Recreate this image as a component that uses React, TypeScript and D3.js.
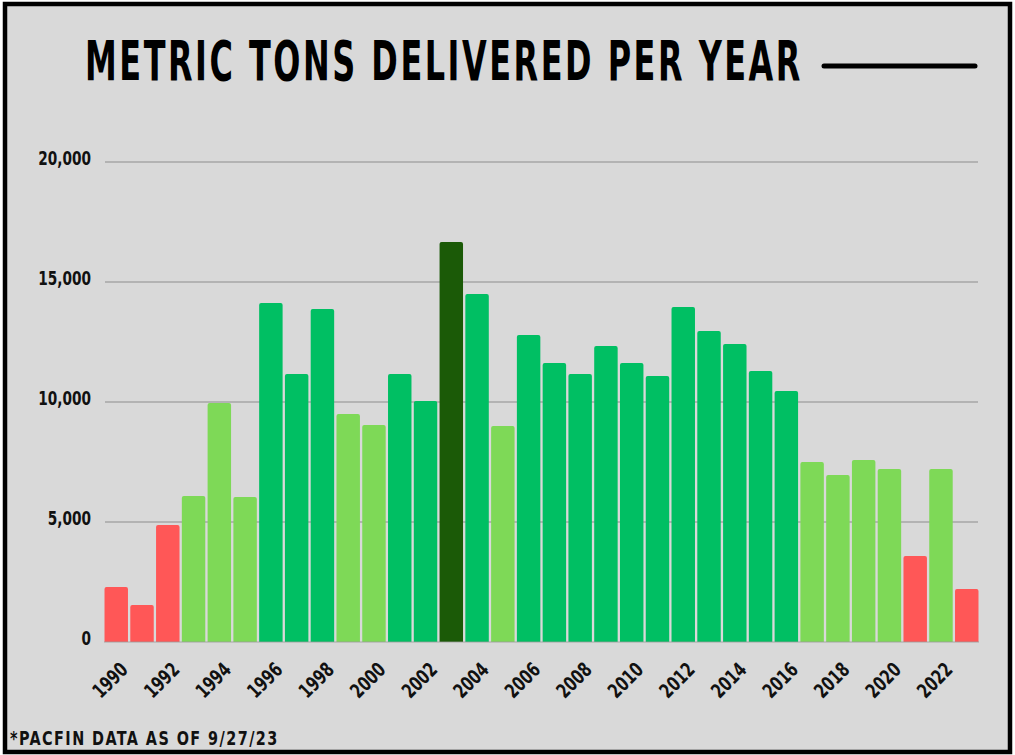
import React, { useLayoutEffect, useRef, useState } from "react";
import * as d3 from "d3";

const years: number[] = d3.range(1990, 2024);
const tons: number[] = [
  2290, 1540, 4875, 6080, 9960, 6040, 14125, 11170, 13875, 9500, 9040, 11170, 10040, 16670,
  14500, 9000, 12790, 11625, 11170, 12330, 11625, 11080, 13960, 12960, 12420, 11290, 10460,
  7500, 6960, 7580, 7210, 3580, 7210, 2210,
];
// category per year: r = low (red), l = light green, g = green, d = record (dark green)
const levels: string[] = [
  "r", "r", "r", "l", "l", "l", "g", "g", "g", "l", "l", "g", "g", "d",
  "g", "l", "g", "g", "g", "g", "g", "g", "g", "g", "g", "g", "g",
  "l", "l", "l", "l", "r", "l", "r",
];
const yTicks: number[] = [0, 5000, 10000, 15000, 20000];
const title = "METRIC TONS DELIVERED PER YEAR";
const footnote = "*PACFIN DATA AS OF 9/27/23";

const colors: Record<string, string> = {
  r: "#ff5757",
  l: "#7ed957",
  g: "#00bf63",
  d: "#1b5a07",
};

const W = 1015;
const H = 755;
const FONT = "'DejaVu Sans Condensed', 'DejaVu Sans', sans-serif";

// Text squeezed horizontally to mimic a tall condensed display face.
function Narrow(props: {
  x: number;
  y: number;
  sx: number;
  size: number;
  anchor?: string;
  rotate?: number;
  dy?: string;
  spacing?: number;
  children: React.ReactNode;
}) {
  const { x, y, sx, size, anchor, rotate, dy, spacing, children } = props;
  return (
    <g transform={`translate(${x},${y}) rotate(${rotate || 0}) scale(${sx},1)`}>
      <text
        textAnchor={anchor || "start"}
        dy={dy}
        fontFamily={FONT}
        fontWeight="bold"
        fontSize={size}
        letterSpacing={spacing}
        fill="#111"
      >
        {children}
      </text>
    </g>
  );
}

export default function App() {
  const x = d3.scaleBand<number>().domain(years).range([104, 979]).paddingInner(0.09).paddingOuter(0.02);
  const y = d3.scaleLinear().domain([0, 20000]).range([642, 162]);
  const fmt = d3.format(",");
  const bw = x.bandwidth();

  const titleRef = useRef<SVGTextElement>(null);
  const [titleSx, setTitleSx] = useState(0.62);
  useLayoutEffect(() => {
    if (titleRef.current) {
      const w = titleRef.current.getComputedTextLength();
      if (w > 0) setTitleSx(718 / w);
    }
  }, []);

  return (
    <div style={{ position: "absolute", left: 0, top: 0 }}>
      <svg width={W} height={H} style={{ display: "block" }}>
        <rect x={0} y={0} width={W} height={H} fill="#ffffff" />
        <rect x={5} y={4} width={1005} height={748} fill="#d9d9d9" stroke="#000" strokeWidth={4.5} />
        <g transform={`translate(85,80) scale(${titleSx},1)`}>
          <text ref={titleRef} fontFamily={FONT} fontWeight="bold" fontSize={56} letterSpacing={4} fill="#000">
            {title}
          </text>
        </g>
        <line x1={824} x2={975} y1={66} y2={66} stroke="#000" strokeWidth={5} strokeLinecap="round" />

        {yTicks.map((t) => (
          <g key={t}>
            {t > 0 && (
              <line x1={105} x2={978} y1={y(t)} y2={y(t)} stroke="#a6a6a6" strokeWidth={1.3} />
            )}
            <Narrow x={91} y={y(t) + 3} sx={0.8} size={19} anchor="end">
              {fmt(t)}
            </Narrow>
          </g>
        ))}

        {years.map((yr, i) => {
          const x0 = x(yr)!;
          const top = y(tons[i]);
          const h = y(0) - top;
          const r = 2;
          const path = `M${x0},${y(0)} V${top + r} Q${x0},${top} ${x0 + r},${top} H${x0 + bw - r} Q${x0 + bw},${top} ${x0 + bw},${top + r} V${y(0)} Z`;
          return h > 0 ? <path key={yr} d={path} fill={colors[levels[i]]} /> : null;
        })}
        <line x1={104} x2={979} y1={y(0)} y2={y(0)} stroke="#9a9a9a" strokeWidth={0.8} />

        {years
          .filter((yr) => yr % 2 === 0)
          .map((yr) => {
            const cx = x(yr)! + bw / 2;
            return (
              <Narrow key={yr} x={cx + 8} y={666} rotate={-45} sx={0.8} size={20} anchor="end" dy="0.35em">
                {yr}
              </Narrow>
            );
          })}

        <Narrow x={10} y={745} sx={0.8} size={20} spacing={1.8}>
          {footnote}
        </Narrow>
      </svg>
    </div>
  );
}
